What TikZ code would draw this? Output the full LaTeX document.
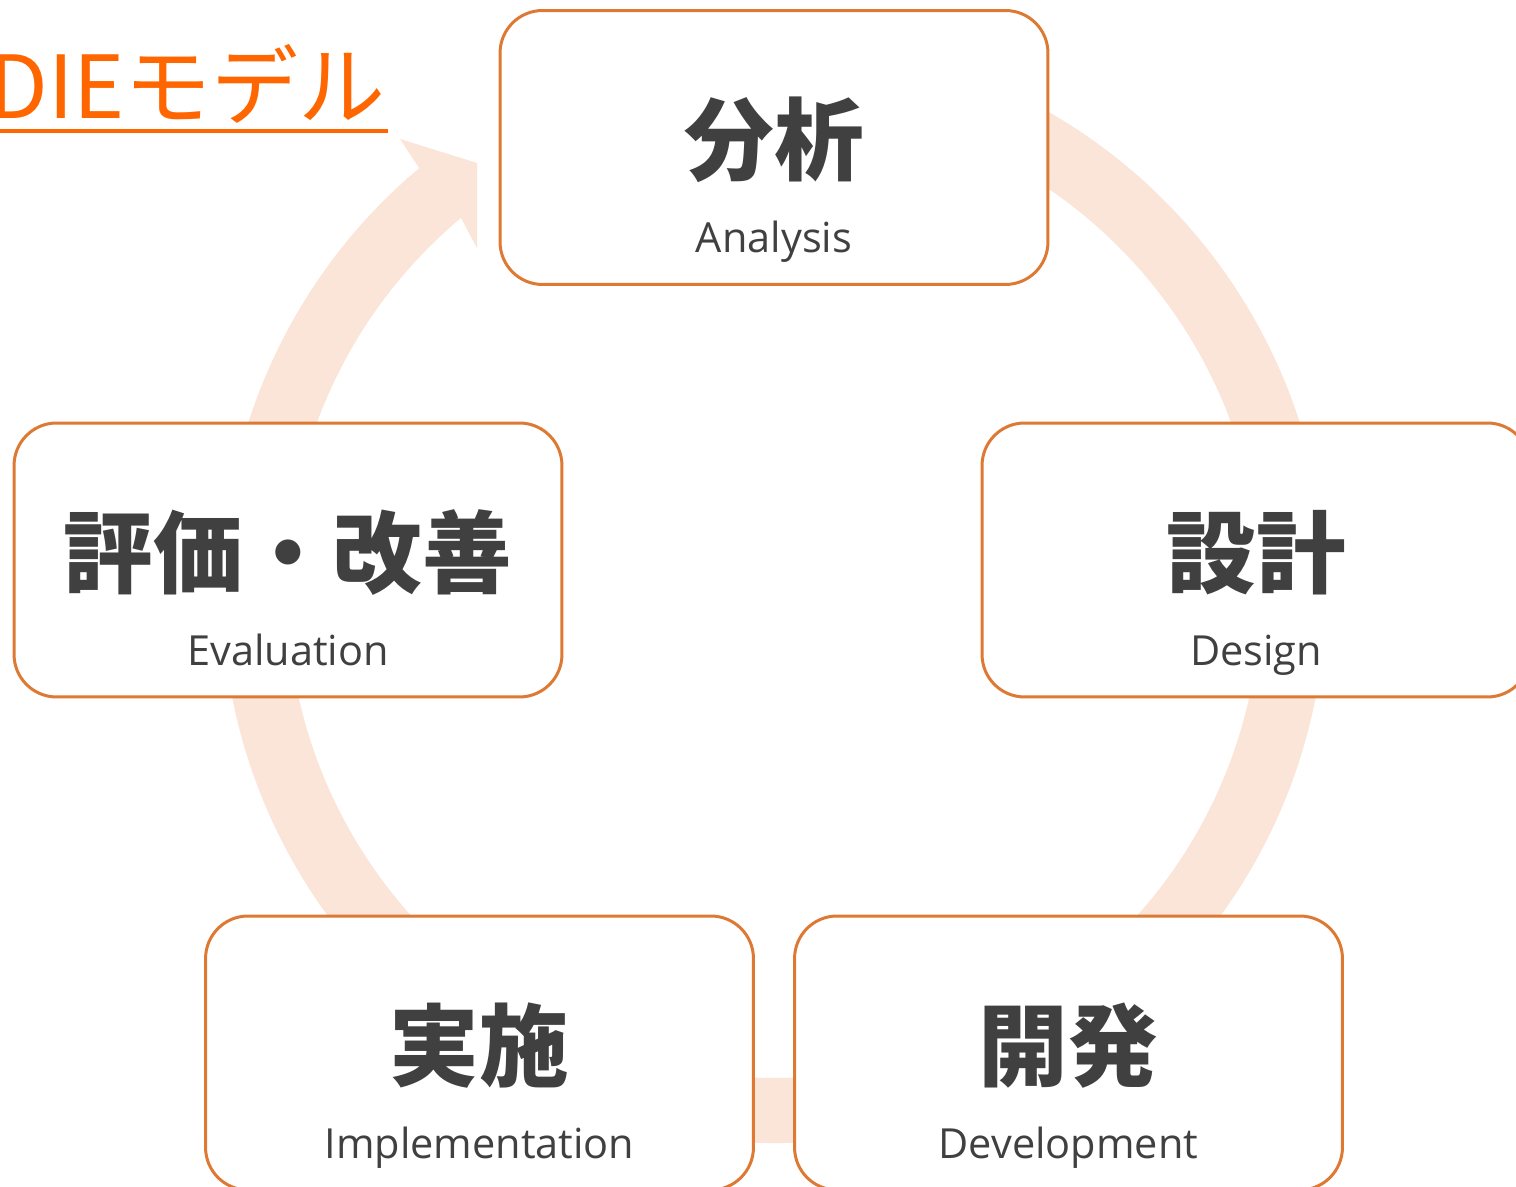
\documentclass[tikz,border=0pt]{standalone}
\usepackage{fontspec}
\setmainfont{Open Sans}
\newfontfamily\jpfont{Noto Sans CJK JP}
\usetikzlibrary{positioning}
\definecolor{boxline}{RGB}{221,121,50}
\definecolor{ringpeach}{RGB}{250,229,216}
\definecolor{titleorange}{RGB}{255,102,0}
\definecolor{inkgray}{RGB}{64,64,64}

\begin{document}
\begin{tikzpicture}[
    x=0.02cm, y=0.02cm,
    stage/.style = {draw=boxline, line width=1.7pt, fill=white, rounded corners=0.85cm, minimum width=10.96cm, minimum height=5.48cm, inner sep=0pt},
    kanji/.style = {font=\jpfont\bfseries\fontsize{51}{51}\selectfont, text=inkgray, inner sep=0pt},
    engtext/.style = {font=\fontsize{23.6}{24}\selectfont, text=inkgray, anchor=base, inner sep=0pt},
    ringfill/.style = {fill=ringpeach}
]
\useasboundingbox (0,0) rectangle (1516,1187);

% Big circular arrow behind the boxes
\coordinate (hub) at (774,596);
\fill[ringfill] ([shift={(hub)}]80:552) arc[start angle=80, end angle=-230, radius=552]
    -- (400,1048) -- (477,1024) -- (477,939)
    -- ([shift={(hub)}]130:487) arc[start angle=130, end angle=440, radius=487] -- cycle;

% Title with underline
\node[font=\jpfont\fontsize{49.5}{50}\selectfont, text=titleorange, anchor=base east, inner sep=0pt] (title) at (386,1068) {DIEモデル};
\draw[titleorange, line width=0.08cm] ([yshift=-0.25cm]title.base west) -- ([xshift=0.04cm, yshift=-0.25cm]title.base east);

% The five stages
\node[stage] (ana) at (774,1039.5) {};
\node[stage] (des) at (1256,627) {};
\node[stage] (eva) at (288,627) {};
\node[stage] (imp) at (479.5,134) {};
\node[stage] (dev) at (1068.5,134) {};

% Japanese names
\node[kanji] (anaJ) at ([yshift=0.15cm]ana.center) {分析};
\node[kanji] (desJ) at ([yshift=0.15cm]des.center) {設計};
\node[kanji] (evaJ) at ([yshift=0.15cm]eva.center) {評価・改善};
\node[kanji] (impJ) at ([yshift=0.15cm]imp.center) {実施};
\node[kanji] (devJ) at ([yshift=0.15cm]dev.center) {開発};

% English names under them
\node[engtext] (anaE) at ([yshift=-2.11cm]ana.center) {Analysis};
\node[engtext] (desE) at ([yshift=-2.11cm]des.center) {Design};
\node[engtext] (evaE) at ([yshift=-2.11cm]eva.center) {Evaluation};
\node[engtext] (impE) at ([yshift=-2.11cm]imp.center) {Implementation};
\node[engtext] (devE) at ([yshift=-2.11cm]dev.center) {Development};

\end{tikzpicture}
\end{document}
